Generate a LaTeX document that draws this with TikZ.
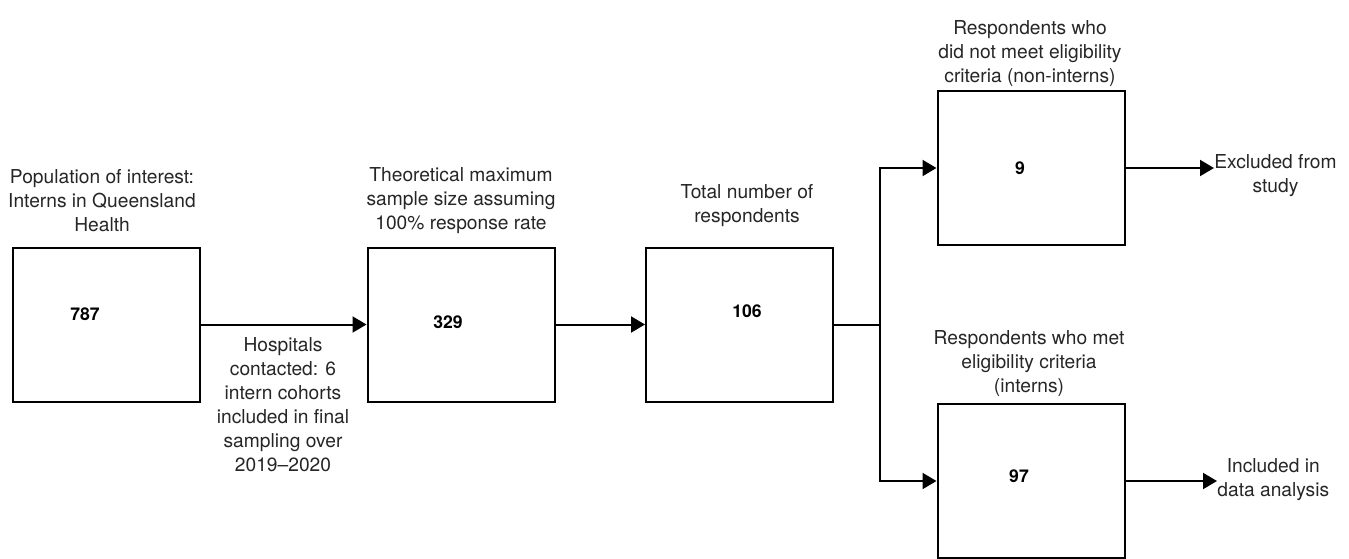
\documentclass[tikz,border=0pt]{standalone}
\usepackage{fontspec}
\setmainfont{TeX Gyre Heros}
\usetikzlibrary{positioning}
\usetikzlibrary{arrows.meta}

\begin{document}
\begin{tikzpicture}[
    x=0.5pt, y=-0.5pt,
    font=\fontsize{9.6}{12}\selectfont,
    count box/.style={draw, line width=1pt, minimum width=93.5pt, minimum height=77pt, inner sep=0pt},
    count/.style={font=\fontsize{8.8}{12}\selectfont\bfseries, inner sep=0pt},
    caption/.style={align=center, inner sep=0pt, text=black!85},
    flow arrow/.style={line width=1pt, -{Triangle[length=7pt, width=8pt]}}
  ]
  \useasboundingbox (0,0) rectangle (1349,558);

  % boxes
  \node[count box] (box_pop)   at (106.5, 324.5) {};
  \node[count box] (box_theo)  at (461, 324.5) {};
  \node[count box] (box_total) at (739.5, 324.5) {};
  \node[count box] (box_excl)  at (1031, 168) {};
  \node[count box] (box_incl)  at (1031, 481) {};

  \node[count] (num_pop)   at (85, 314) {787};
  \node[count] (num_theo)  at (448, 322) {329};
  \node[count] (num_total) at (747, 311) {106};
  \node[count] (num_excl)  at (1020, 168) {9};
  \node[count] (num_incl)  at (1019, 476) {97};

  % captions
  \node[caption] (cap_pop)   at (102, 201) {Population of interest:\\Interns in Queensland\\Health};
  \node[caption] (cap_theo)  at (461, 201) {Theoretical maximum\\sample size assuming\\100\% response rate};
  \node[caption] (cap_total) at (747, 205.5) {Total number of\\respondents};
  \node[caption] (cap_excl)  at (1030, 54) {Respondents who\\did not meet eligibility\\criteria (non-interns)};
  \node[caption] (cap_incl)  at (1029, 364) {Respondents who met\\eligibility criteria\\(interns)};
  \node[caption] (cap_hosp)  at (283, 405) {Hospitals\\contacted: 6\\intern cohorts\\included in final\\sampling over\\2019--2020};

  \node[caption, anchor=west] (txt_excl) at (1214, 176) {Excluded from\\study};
  \node[caption, anchor=west] (txt_incl) at (1217, 480) {Included in\\data analysis};

  \coordinate (split) at (880, 324.5);

  \draw[flow arrow] (box_pop) -- (box_theo);
  \draw[flow arrow] (box_theo) -- (box_total);
  \draw[line width=1pt] (box_total.east) -- (split);
  \draw[flow arrow] (split) |- (box_excl.west);
  \draw[flow arrow] (split) |- (box_incl.west);

  \draw[flow arrow] (box_excl.east) -- (box_excl.east -| txt_excl.west);
  \draw[flow arrow] (box_incl.east) -- (box_incl.east -| txt_incl.west);

\end{tikzpicture}
\end{document}
